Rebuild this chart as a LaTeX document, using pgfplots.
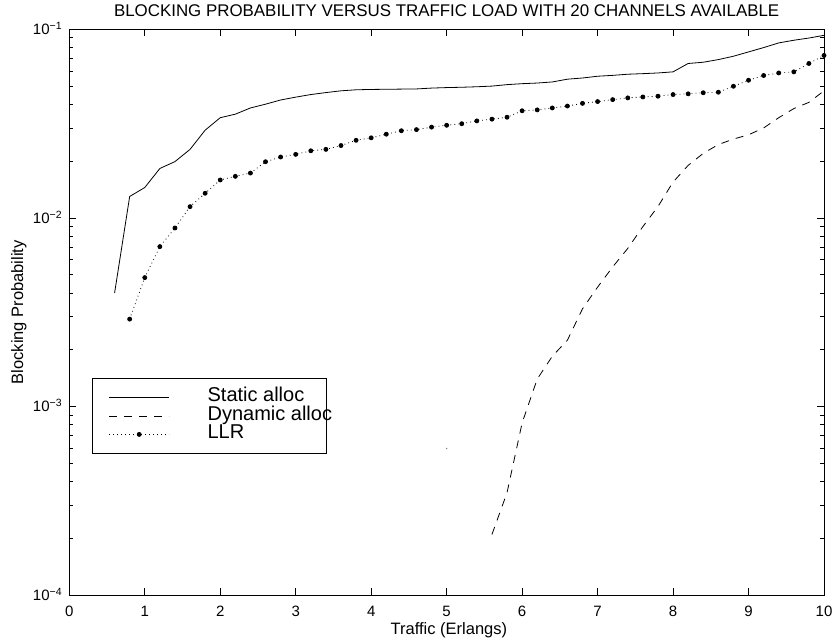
\documentclass[border=0pt]{standalone}
\usepackage{pgfplots}
\pgfplotsset{compat=1.18}
\usepackage{fontspec}
\setmainfont{Liberation Sans}
\begin{document}
\begin{tikzpicture}
\useasboundingbox (-69.3pt,-46.7pt) rectangle (768.7pt,595.3pt);
\begin{axis}[
  scale only axis,
  width=754.7pt, height=566pt,
  at={(0pt,0pt)}, anchor=south west,
  ymode=log,
  xmin=0, xmax=10, ymin=1e-4, ymax=1e-1,
  xtick={0,1,...,10},
  ytick={1e-4,1e-3,1e-2,1e-1},
  yticklabels={10\textsuperscript{−4},10\textsuperscript{−3},10\textsuperscript{−2},10\textsuperscript{−1}},
  minor ytick={2e-4,3e-4,4e-4,5e-4,6e-4,7e-4,8e-4,9e-4,2e-3,3e-3,4e-3,5e-3,6e-3,7e-3,8e-3,9e-3,2e-2,3e-2,4e-2,5e-2,6e-2,7e-2,8e-2,9e-2},
  /pgf/number format/assume math mode=true,
  tick align=inside,
  tick pos=both,
  major tick length=7pt, minor tick length=4pt,
  axis line style={line width=1pt},
  tick style={black, line width=0.9pt},
  tick label style={font=\fontsize{15}{17}\selectfont},
  xticklabel style={anchor=base, inner sep=0pt, yshift=-20.7pt},
  yticklabel style={anchor=base east, inner sep=0pt, xshift=-7pt, yshift=-5.3pt},
  title={BLOCKING PROBABILITY VERSUS TRAFFIC LOAD WITH 20 CHANNELS AVAILABLE},
  every axis title/.style={at={(axis description cs:0.5,1.0235)}, anchor=base, inner sep=0pt, font=\fontsize{16.9}{18}\selectfont},
  xlabel={Traffic (Erlangs)},
  every axis x label/.style={at={(axis description cs:0.503,-0.0684)}, anchor=base, inner sep=0pt, font=\fontsize{16.5}{18}\selectfont},
  ylabel={Blocking Probability},
  every axis y label/.style={at={(axis description cs:-0.0613,0.5)}, rotate=90, anchor=base, inner sep=0pt, font=\fontsize{16.5}{18}\selectfont},
  legend image code/.code={\draw[mark repeat=2,mark phase=2,#1] plot coordinates {(0pt,0pt) (30pt,0pt) (60pt,0pt)};},
  legend cell align=left,
  legend style={at={(axis description cs:0.0305,0.3845)}, anchor=north west,
    draw=black, line width=1pt, inner xsep=16pt, inner ysep=10pt,
    row sep=0pt,
    nodes={inner sep=0pt, text height=13.5pt, text depth=5pt, font=\fontsize{20}{22}\selectfont},
    /tikz/every odd column/.append style={column sep=38pt}},
]
\addplot[black, line width=0.8pt] coordinates {
(0.6,0.0040) (0.8,0.0130) (1.0,0.0145) (1.2,0.0183) (1.4,0.0199) (1.6,0.0231) (1.8,0.0292) (2.0,0.0340)
(2.2,0.0355) (2.4,0.0383) (2.6,0.0401) (2.8,0.0422) (3.0,0.0437) (3.2,0.0451) (3.4,0.0462) (3.6,0.0472)
(3.8,0.0478) (4.0,0.0480) (4.2,0.0481) (4.4,0.0482) (4.6,0.0483) (4.8,0.0488) (5.0,0.0491) (5.2,0.0493)
(5.4,0.0496) (5.6,0.0500) (5.8,0.0509) (6.0,0.0515) (6.2,0.0519) (6.4,0.0526) (6.6,0.0544) (6.8,0.0552)
(7.0,0.0564) (7.2,0.0570) (7.4,0.0578) (7.6,0.0582) (7.8,0.0587) (8.0,0.0595) (8.2,0.0659) (8.4,0.0669)
(8.6,0.0691) (8.8,0.0720) (9.0,0.0759) (9.2,0.0800) (9.4,0.0847) (9.6,0.0875) (9.8,0.0899) (10,0.0929)
};
\addlegendentry{\makebox[103pt][l]{Static alloc}}
\addplot[black, line width=0.8pt, dash pattern=on 8pt off 7pt] coordinates {
(5.6,0.00021) (5.8,0.00035) (6.0,0.00082) (6.2,0.00140) (6.4,0.00185) (6.6,0.00225) (6.8,0.0033)
(7.0,0.0043) (7.2,0.0055) (7.4,0.0069) (7.6,0.0090) (7.8,0.0115) (8.0,0.0155) (8.2,0.0190)
(8.4,0.0220) (8.6,0.0245) (8.8,0.0262) (9.0,0.0276) (9.2,0.0300) (9.4,0.0340) (9.6,0.0380)
(9.8,0.0410) (10,0.0472)
};
\addlegendentry{\makebox[103pt][l]{Dynamic alloc}}
\addplot[black, line width=0.8pt, dash pattern=on 0.8pt off 3.2pt, mark=*, mark size=2pt, mark options={solid}] coordinates {
(0.8,0.00291) (1.0,0.00483) (1.2,0.00705) (1.4,0.00885) (1.6,0.01148) (1.8,0.01352) (2.0,0.01590)
(2.2,0.01662) (2.4,0.01730) (2.6,0.01987) (2.8,0.02104) (3.0,0.02173) (3.2,0.0227) (3.4,0.0231)
(3.6,0.0242) (3.8,0.0258) (4.0,0.0266) (4.2,0.0278) (4.4,0.0290) (4.6,0.0294) (4.8,0.0303)
(5.0,0.0310) (5.2,0.0316) (5.4,0.0327) (5.6,0.0334) (5.8,0.0342) (6.0,0.0370) (6.2,0.0374)
(6.4,0.0383) (6.6,0.0392) (6.8,0.0405) (7.0,0.0414) (7.2,0.0424) (7.4,0.0433) (7.6,0.0438)
(7.8,0.0442) (8.0,0.0451) (8.2,0.0455) (8.4,0.0461) (8.6,0.0464) (8.8,0.0499) (9.0,0.0537)
(9.2,0.0569) (9.4,0.0587) (9.6,0.0595) (9.8,0.0659) (10,0.0727)
};
\addlegendentry{\makebox[103pt][l]{LLR}}
\addplot[only marks, mark=*, mark size=0.5pt, gray, forget plot] coordinates {(5,0.0006)};
\end{axis}
\end{tikzpicture}
\end{document}
